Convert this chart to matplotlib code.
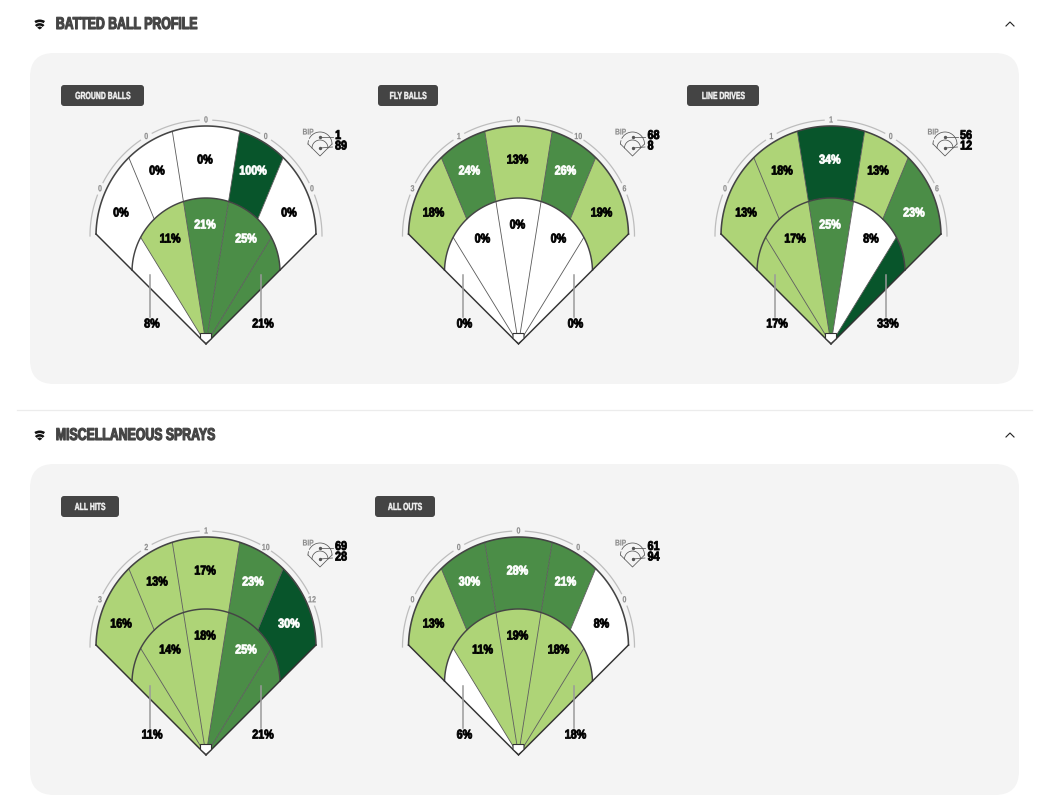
import numpy as np
import matplotlib
matplotlib.use("Agg")
import matplotlib.pyplot as plt
from matplotlib.patches import FancyBboxPatch, Polygon, Wedge
import matplotlib.patheffects as pe
from matplotlib.transforms import Affine2D

FONT = ["Liberation Sans", "DejaVu Sans"]

section_titles = ["BATTED BALL PROFILE", "MISCELLANEOUS SPRAYS"]
chart_names = ["GROUND BALLS", "FLY BALLS", "LINE DRIVES", "ALL HITS", "ALL OUTS"]
outer_pct = [[0, 0, 0, 100, 0], [18, 24, 13, 26, 19], [13, 18, 34, 13, 23],
             [16, 13, 17, 23, 30], [13, 29.6, 28, 21, 8]]
inner_pct = [[8, 11, 21, 25, 21], [0, 0, 0, 0, 0], [17, 17, 25, 8, 33],
             [11, 14, 18, 25, 21], [6, 11, 19, 18, 18]]
arc_counts = [[0, 0, 0, 0, 0], [3, 1, 0, 10, 6], [0, 1, 1, 0, 6],
              [3, 2, 1, 10, 12], [0, 0, 0, 0, 0]]
bip_outer = [1, 68, 56, 69, 61]
bip_inner = [89, 8, 12, 28, 94]

# layout (pixels)
apex_x = [206, 518.5, 831, 206, 518.5]
apex_y = [344, 344, 344, 755, 755]
badge_x = [(61, 144), (378, 438), (687, 759), (61, 119), (375, 435)]
OUTER_EDGES = [-45, -22.5, -9, 9, 22.5, 45]
INNER_EDGES = [-45, -31.5, -9, 9, 31.5, 45]
COUNT_ANGLES = [-66, -31, 0, 31, 66]
OUTER_LABEL = [(-85, -130.5), (-49, -172.5), (-1, -183.5), (47, -172.5), (83, -130.5)]
INNER_LABEL = [(-54, -19.5), (-36, -104.5), (-1, -118.5), (40, -104.5), (57, -19.5)]

WHITE, LIGHT, MID, DARK = "#ffffff", "#aed477", "#4b8d47", "#08552b"
INK = "#444444"


class Condensed(pe.AbstractPathEffect):
    """Draws a text's glyphs narrower (and a little heavier), keeping its anchor."""

    def __init__(self, sx, center, stroke):
        super().__init__()
        self.sx, self.center, self.stroke = sx, center, stroke

    def draw_path(self, renderer, gc, tpath, affine, rgbFace=None):
        ext = tpath.get_extents()
        shift = (1 - self.sx) * (ext.x0 + ext.x1) / 2 if self.center else (1 - self.sx) * ext.x0
        squeezed = Affine2D().scale(self.sx, 1).translate(shift, 0) + affine
        if self.stroke:
            g = renderer.new_gc()
            g.copy_properties(gc)
            g.set_linewidth(self.stroke)
            g.set_foreground(rgbFace)
            renderer.draw_path(g, tpath, squeezed, rgbFace)
            g.restore()
        else:
            renderer.draw_path(gc, tpath, squeezed, rgbFace)


def shade(v):
    if v < 10:
        return WHITE
    if v < 20:
        return LIGHT
    if v < 30:
        return MID
    return DARK


fig = plt.figure(figsize=(10.5, 8.1), dpi=100, facecolor="white")
ax = fig.add_axes([0, 0, 1, 1])
ax.set_xlim(0, 1050)
ax.set_ylim(810, 0)
ax.axis("off")


def label(x, y, s, size=9.2, color="black", ha="center", stroke=0.6, sx=0.84, z=8):
    t = ax.text(x, y, s, fontsize=size, color=color, ha=ha, va="center",
                family=FONT, fontweight="bold", zorder=z)
    t.set_path_effects([Condensed(sx, ha == "center", stroke)])
    return t


def ray_hit(ax0, ay0, theta, cx, cy, r):
    """Where the ray from the apex at theta (degrees from vertical) meets a circle."""
    d = np.array([np.sin(np.radians(theta)), -np.cos(np.radians(theta))])
    f = np.array([ax0 - cx, ay0 - cy])
    b = f @ d
    c = f @ f - r * r
    return np.array([ax0, ay0]) + d * (-b + np.sqrt(b * b - c))


def arc_between(p, q, cx, cy, r, n=40):
    a0 = np.arctan2(p[1] - cy, p[0] - cx)
    a1 = np.arctan2(q[1] - cy, q[0] - cx)
    t = np.linspace(a0, a1, n)
    return np.column_stack([cx + r * np.cos(t), cy + r * np.sin(t)])


def draw_field(i):
    x0, y0 = apex_x[i], apex_y[i]
    oc, or_ = (x0, y0 - 108), 110
    ic, ir = (x0, y0 - 72), 74

    def on_outer(th):
        return ray_hit(x0, y0, th, *oc, or_)

    def on_inner(th):
        return ray_hit(x0, y0, th, *ic, ir)

    # outer band
    for k in range(5):
        a, b = OUTER_EDGES[k], OUTER_EDGES[k + 1]
        outer = arc_between(on_outer(a), on_outer(b), *oc, or_)
        inner = arc_between(on_inner(b), on_inner(a), *ic, ir)
        ax.add_patch(Polygon(np.vstack([outer, inner]), closed=True, fc=shade(outer_pct[i][k]),
                             ec="none", zorder=2))
    # infield wedges
    for k in range(5):
        a, b = INNER_EDGES[k], INNER_EDGES[k + 1]
        arc = arc_between(on_inner(a), on_inner(b), *ic, ir)
        ax.add_patch(Polygon(np.vstack([[x0, y0], arc]), closed=True, fc=shade(inner_pct[i][k]),
                             ec="none", zorder=2))
    # thin dividers
    for th in OUTER_EDGES[1:-1]:
        p, q = on_outer(th), on_inner(th)
        ax.plot([p[0], q[0]], [p[1], q[1]], color="#5a5a5a", lw=0.6, zorder=3)
    for th in INNER_EDGES[1:-1]:
        p = on_inner(th)
        ax.plot([p[0], x0], [p[1], y0], color="#5a5a5a", lw=0.6, zorder=3)
    # heavy outlines
    o_arc = arc_between(on_outer(-45), on_outer(45), *oc, or_, 120)
    i_arc = arc_between(on_inner(-45), on_inner(45), *ic, ir, 100)
    ax.plot(o_arc[:, 0], o_arc[:, 1], color=INK, lw=1.15, zorder=4)
    ax.plot(i_arc[:, 0], i_arc[:, 1], color=INK, lw=1.05, zorder=4)
    ends = [on_outer(-45), (x0, y0), on_outer(45)]
    ax.plot(*zip(*ends), color="#333333", lw=1.05, zorder=4, solid_joinstyle="miter")
    # home plate
    ax.add_patch(Polygon([(x0 - 5.5, y0 - 10.5), (x0 + 5.5, y0 - 10.5), (x0 + 5.5, y0 - 5.5),
                          (x0, y0 - 0.5), (x0 - 5.5, y0 - 5.5)], closed=True, fc="white",
                         ec="#333333", lw=0.8, zorder=5))
    # grey arc with count labels
    R = 116
    limits = [-90]
    for th in COUNT_ANGLES:
        limits += [th - 3.4, th + 3.4]
    limits.append(90)
    for k in range(0, len(limits), 2):
        t = np.radians(np.linspace(limits[k], limits[k + 1], 40))
        ax.plot(oc[0] + R * np.sin(t), oc[1] - R * np.cos(t), color="#bdbdbd", lw=0.9, zorder=1)
    for k, th in enumerate(COUNT_ANGLES):
        t = np.radians(th)
        label(oc[0] + R * np.sin(t), oc[1] - R * np.cos(t), str(arc_counts[i][k]),
              size=6.4, color="#8c8c8c", stroke=0.1, sx=0.8)
    # percent labels
    for k in range(5):
        dx, dy = OUTER_LABEL[k]
        v = outer_pct[i][k]
        label(x0 + dx, y0 + dy, f"{v:.0f}%", color="white" if shade(v) in (MID, DARK) else "black")
        dx, dy = INNER_LABEL[k]
        v = inner_pct[i][k]
        if k in (0, 4):
            label(x0 + dx, y0 + dy, f"{v:.0f}%")
        else:
            label(x0 + dx, y0 + dy, f"{v:.0f}%",
                  color="white" if shade(v) in (MID, DARK) else "black")
    # leaders to the foul-corner labels
    for dx in (-56, 55):
        ax.plot([x0 + dx, x0 + dx], [y0 - 69, y0 - 27], color="#9a9a9a", lw=1.1, zorder=6)
    # BIP key
    bx, by = x0 + 114, y0 - 188
    label(bx - 12, by - 23, "BIP", size=6.0, color="#8c8c8c", stroke=0.1, sx=0.8)
    for lo, hi in ((-62, 90), (-90, -74)):
        t = np.radians(np.linspace(lo, hi, 40))
        ax.plot(bx + 12 * np.sin(t), by - 12 - 12 * np.cos(t), color="#555555", lw=0.55, zorder=8)
    t = np.radians(np.linspace(-90, 90, 30))
    ax.plot(bx + 8 * np.sin(t), by - 8 - 8 * np.cos(t), color="#555555", lw=0.55, zorder=8)
    ax.plot([bx - 12, bx, bx + 12], [by - 12, by, by - 12], color="#555555", lw=0.55, zorder=8)
    ax.plot([bx, bx + 12.5], [by - 19, by - 19], color="#555555", lw=0.55, marker="o",
            markersize=1.4, markevery=[0], zorder=8)
    ax.plot([bx, bx + 12.5], [by - 8, by - 9], color="#555555", lw=0.55, marker="o",
            markersize=1.4, markevery=[0], zorder=8)
    label(x0 + 129, y0 - 208, str(bip_outer[i]), size=9.2, ha="left")
    label(x0 + 129, y0 - 197.5, str(bip_inner[i]), size=9.2, ha="left")


# panels and section headers
for top, title in zip((0, 411), section_titles):
    ax.add_patch(FancyBboxPatch((30, top + 53), 989, 331, boxstyle="round,pad=0,rounding_size=24",
                                fc="#f4f4f4", ec="none", zorder=0))
    label(55.5, top + 24.5, title, size=12.3, color="#444444", ha="left", stroke=0.8, sx=0.72)
    cx, cy = 39.7, top + 29.5
    ax.add_patch(Wedge((cx, cy), 10, 238, 302, fc="#111111", ec="none", zorder=3, width=2.6))
    ax.add_patch(Wedge((cx, cy), 6.4, 222, 318, fc="#111111", ec="none", zorder=3, width=2.6))
    ax.add_patch(Wedge((cx, cy), 3, 215, 325, fc="#111111", ec="none", zorder=3))
    ax.plot([1006, 1010, 1014], [top + 26, top + 22, top + 26], color="#222222", lw=0.8, zorder=3)
ax.plot([17, 1032], [409.5, 409.5], color="#ececec", lw=0.9, zorder=0)

for i, name in enumerate(chart_names):
    x1, x2 = badge_x[i]
    yb = 85 if i < 3 else 496
    ax.add_patch(FancyBboxPatch((x1, yb), x2 - x1, 21, boxstyle="round,pad=0,rounding_size=3",
                                fc="#444444", ec="none", zorder=3))
    label((x1 + x2) / 2, yb + 11, name, size=7.4, color="#f2f2f2", stroke=0.3, sx=0.67)
    draw_field(i)

fig.savefig("out.png", dpi=100, facecolor="white")
